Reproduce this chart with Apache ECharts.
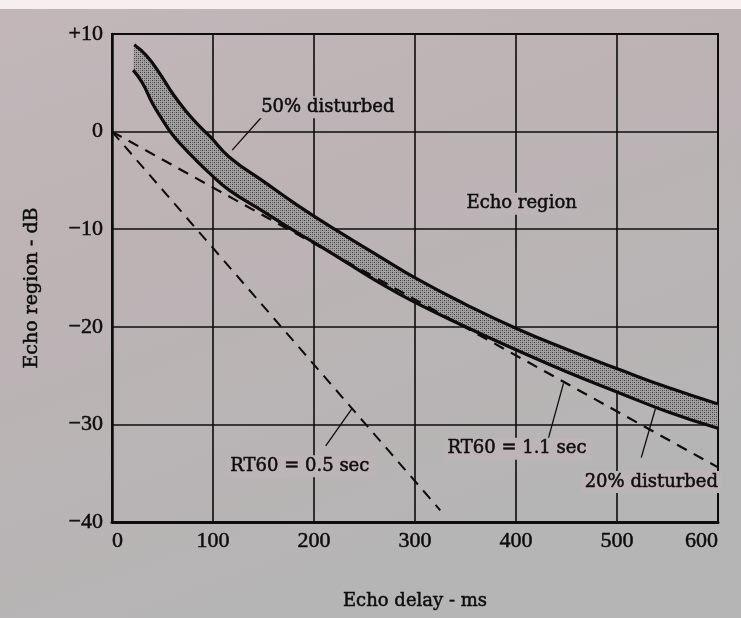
<!DOCTYPE html>
<html>
<head>
<meta charset="utf-8">
<title>Echo region</title>
<script src="https://cdn.jsdelivr.net/npm/echarts@6/dist/echarts.min.js"></script>
<style>
  html, body { margin: 0; padding: 0; }
  #main { width: 741px; height: 618px; }
</style>
</head>
<body>
<div id="main"></div>
<script>
// tick labels
const xTickLabels = ['0', '100', '200', '300', '400', '500', '600'];
const yTickLabels = ['\u221240', '\u221230', '\u221220', '\u221210', '0', '+10'];

// 50% disturbed (upper edge of the band)
const upperX = [22, 34, 47, 60, 74, 87, 97, 116, 150, 183, 222, 265, 302, 350, 401, 450, 503, 550, 600];
const upperY = [8.9, 7.8, 6.0, 3.9, 2.0, 0.5, -0.5, -2.6, -5.1, -7.5, -10.1, -12.8, -15.1, -17.7, -20.2, -22.3, -24.4, -26.2, -27.9];

// 20% disturbed (lower edge of the band)
const lowerX = [21, 30, 40, 50, 59, 69, 80, 97, 116, 150, 176, 199, 232, 265, 300, 350, 401, 450, 503, 550, 600];
const lowerY = [6.3, 5.0, 2.9, 1.2, -0.2, -1.4, -2.6, -4.3, -6.0, -8.2, -9.9, -11.3, -13.4, -15.5, -17.5, -20.0, -22.4, -24.6, -26.8, -28.7, -30.4];

// reverberation decay lines
const rt05 = [[0, 0], [325, -38.8]];
const rt11 = [[0, 0], [600, -34.4]];

// annotation texts and their leader lines
const notes = [
  { name: '50% disturbed', value: [213.7, 2.5] },
  { name: 'Echo region', value: [405.6, -7.4] },
  { name: 'RT60 = 0.5 sec', value: [186, -34.3] },
  { name: 'RT60 = 1.1 sec', value: [401, -32.5] },
  { name: '20% disturbed', value: [534, -35.9] }
];
const leaders = [
  [[150, 1.7], [119, -1.9]],
  [[211.6, -32.2], [237.4, -28.4]],
  [[430, -32.2], [447, -25.8]],
  [[524, -33.4], [538, -28.4]]
];

function zip(xs, ys) {
  return xs.map((x, i) => [x, ys[i]]);
}

// stipple fill for the band
const dots = document.createElement('canvas');
dots.width = 4;
dots.height = 4;
(function () {
  const c = dots.getContext('2d');
  c.fillStyle = '#a3a1a2';
  c.fillRect(0, 0, 4, 4);
  c.fillStyle = '#3c3a3b';
  c.fillRect(0, 0, 1, 1);
  c.fillRect(2, 2, 1, 1);
  c.fillStyle = '#6e6c6d';
  c.fillRect(2, 0, 1, 1);
  c.fillRect(0, 2, 1, 1);
})();

const serif = 'DejaVu Serif';
const tickFont = 'Liberation Serif';
const ink = '#0e0c0c';
const paper = '#bcb4b6';

// slight outline so the thin serif reads like the scanned print
const printText = { color: ink, textBorderColor: ink, textBorderWidth: 0.5 };

const topBand = {
  type: 'rect',
  shape: { x: 0, y: 0, width: 741, height: 9 },
  style: { fill: '#f7eef0' },
  silent: true
};

const chart = echarts.init(document.getElementById('main'));

const series = [
  {
    type: 'custom',
    name: 'band',
    data: [[0, 0]],
    z: 2,
    silent: true,
    renderItem: function (params, api) {
      const top = upperX.map((x, i) => api.coord([x, upperY[i]]));
      const bottom = lowerX.map((x, i) => api.coord([x, lowerY[i]])).reverse();
      return {
        type: 'polygon',
        shape: { points: top.concat(bottom) },
        style: { fill: { image: dots, repeat: 'repeat' } }
      };
    }
  },
  {
    type: 'line',
    name: '50% disturbed',
    data: zip(upperX, upperY),
    smooth: true,
    symbol: 'none',
    z: 4,
    lineStyle: { color: ink, width: 3.2 }
  },
  {
    type: 'line',
    name: '20% disturbed',
    data: zip(lowerX, lowerY),
    smooth: true,
    symbol: 'none',
    z: 4,
    lineStyle: { color: ink, width: 3.2 }
  },
  {
    type: 'line',
    name: 'RT60 = 0.5 sec',
    data: rt05,
    symbol: 'none',
    z: 3,
    lineStyle: { color: ink, width: 2, type: [11, 8] }
  },
  {
    type: 'line',
    name: 'RT60 = 1.1 sec',
    data: rt11,
    symbol: 'none',
    z: 3,
    lineStyle: { color: ink, width: 2.2, type: [11, 8] }
  }
];

leaders.forEach(function (seg) {
  series.push({
    type: 'line',
    data: seg,
    symbol: 'none',
    z: 3,
    silent: true,
    lineStyle: { color: ink, width: 1.3 }
  });
});

chart.setOption({
  animation: false,
  backgroundColor: {
    type: 'linear', x: 0, y: 0, x2: 0.3, y2: 1,
    colorStops: [
      { offset: 0, color: '#c2b6b9' },
      { offset: 0.45, color: '#bcb3b5' },
      { offset: 1, color: '#b6b5b5' }
    ]
  },
  graphic: [topBand],
  grid: {
    left: 112,
    right: 23,
    top: 34,
    bottom: 96,
    show: true,
    borderColor: ink,
    borderWidth: 2
  },
  xAxis: {
    type: 'value',
    min: 0,
    max: 600,
    interval: 100,
    name: 'Echo delay - ms',
    nameLocation: 'middle',
    nameGap: 70,
    nameTextStyle: Object.assign({ fontFamily: serif, fontSize: 18 }, printText),
    axisLine: { show: true, onZero: false, lineStyle: { color: ink, width: 3 } },
    axisTick: { show: false },
    axisLabel: Object.assign({
      margin: 8,
      fontFamily: tickFont,
      fontSize: 22,
      alignMinLabel: 'left',
      alignMaxLabel: 'right',
      formatter: function (v) { return xTickLabels[Math.round(v / 100)]; }
    }, printText),
    splitLine: { show: true, lineStyle: { color: ink, width: 1.6 } }
  },
  yAxis: {
    type: 'value',
    min: -40,
    max: 10,
    interval: 10,
    name: 'Echo region - dB',
    nameLocation: 'middle',
    nameGap: 70,
    nameRotate: 90,
    nameTextStyle: Object.assign({ fontFamily: serif, fontSize: 19, padding: [0, 20, 0, 0] }, printText),
    axisLine: { show: true, onZero: false, lineStyle: { color: ink, width: 2.5 } },
    axisTick: { show: false },
    axisLabel: Object.assign({
      margin: 9,
      fontFamily: tickFont,
      fontSize: 22,
      formatter: function (v) { return yTickLabels[Math.round((v + 40) / 10)]; }
    }, printText),
    splitLine: { show: true, lineStyle: { color: ink, width: 1.6 } }
  },
  series: series
});

// annotation texts sit on a patch of paper that hides the grid behind them
const noteTexts = notes.map(function (n) {
  const p = chart.convertToPixel({ gridIndex: 0 }, n.value);
  return {
    type: 'text',
    x: p[0],
    y: p[1],
    z: 100,
    silent: true,
    style: {
      text: n.name,
      fontFamily: serif,
      fontSize: 18,
      fill: ink,
      stroke: ink,
      lineWidth: 0.5,
      align: 'center',
      verticalAlign: 'middle',
      textAlign: 'center',
      textVerticalAlign: 'middle',
      backgroundColor: paper,
      padding: [2, 3]
    }
  };
});
chart.setOption({ graphic: [topBand].concat(noteTexts) });
</script>
</body>
</html>
